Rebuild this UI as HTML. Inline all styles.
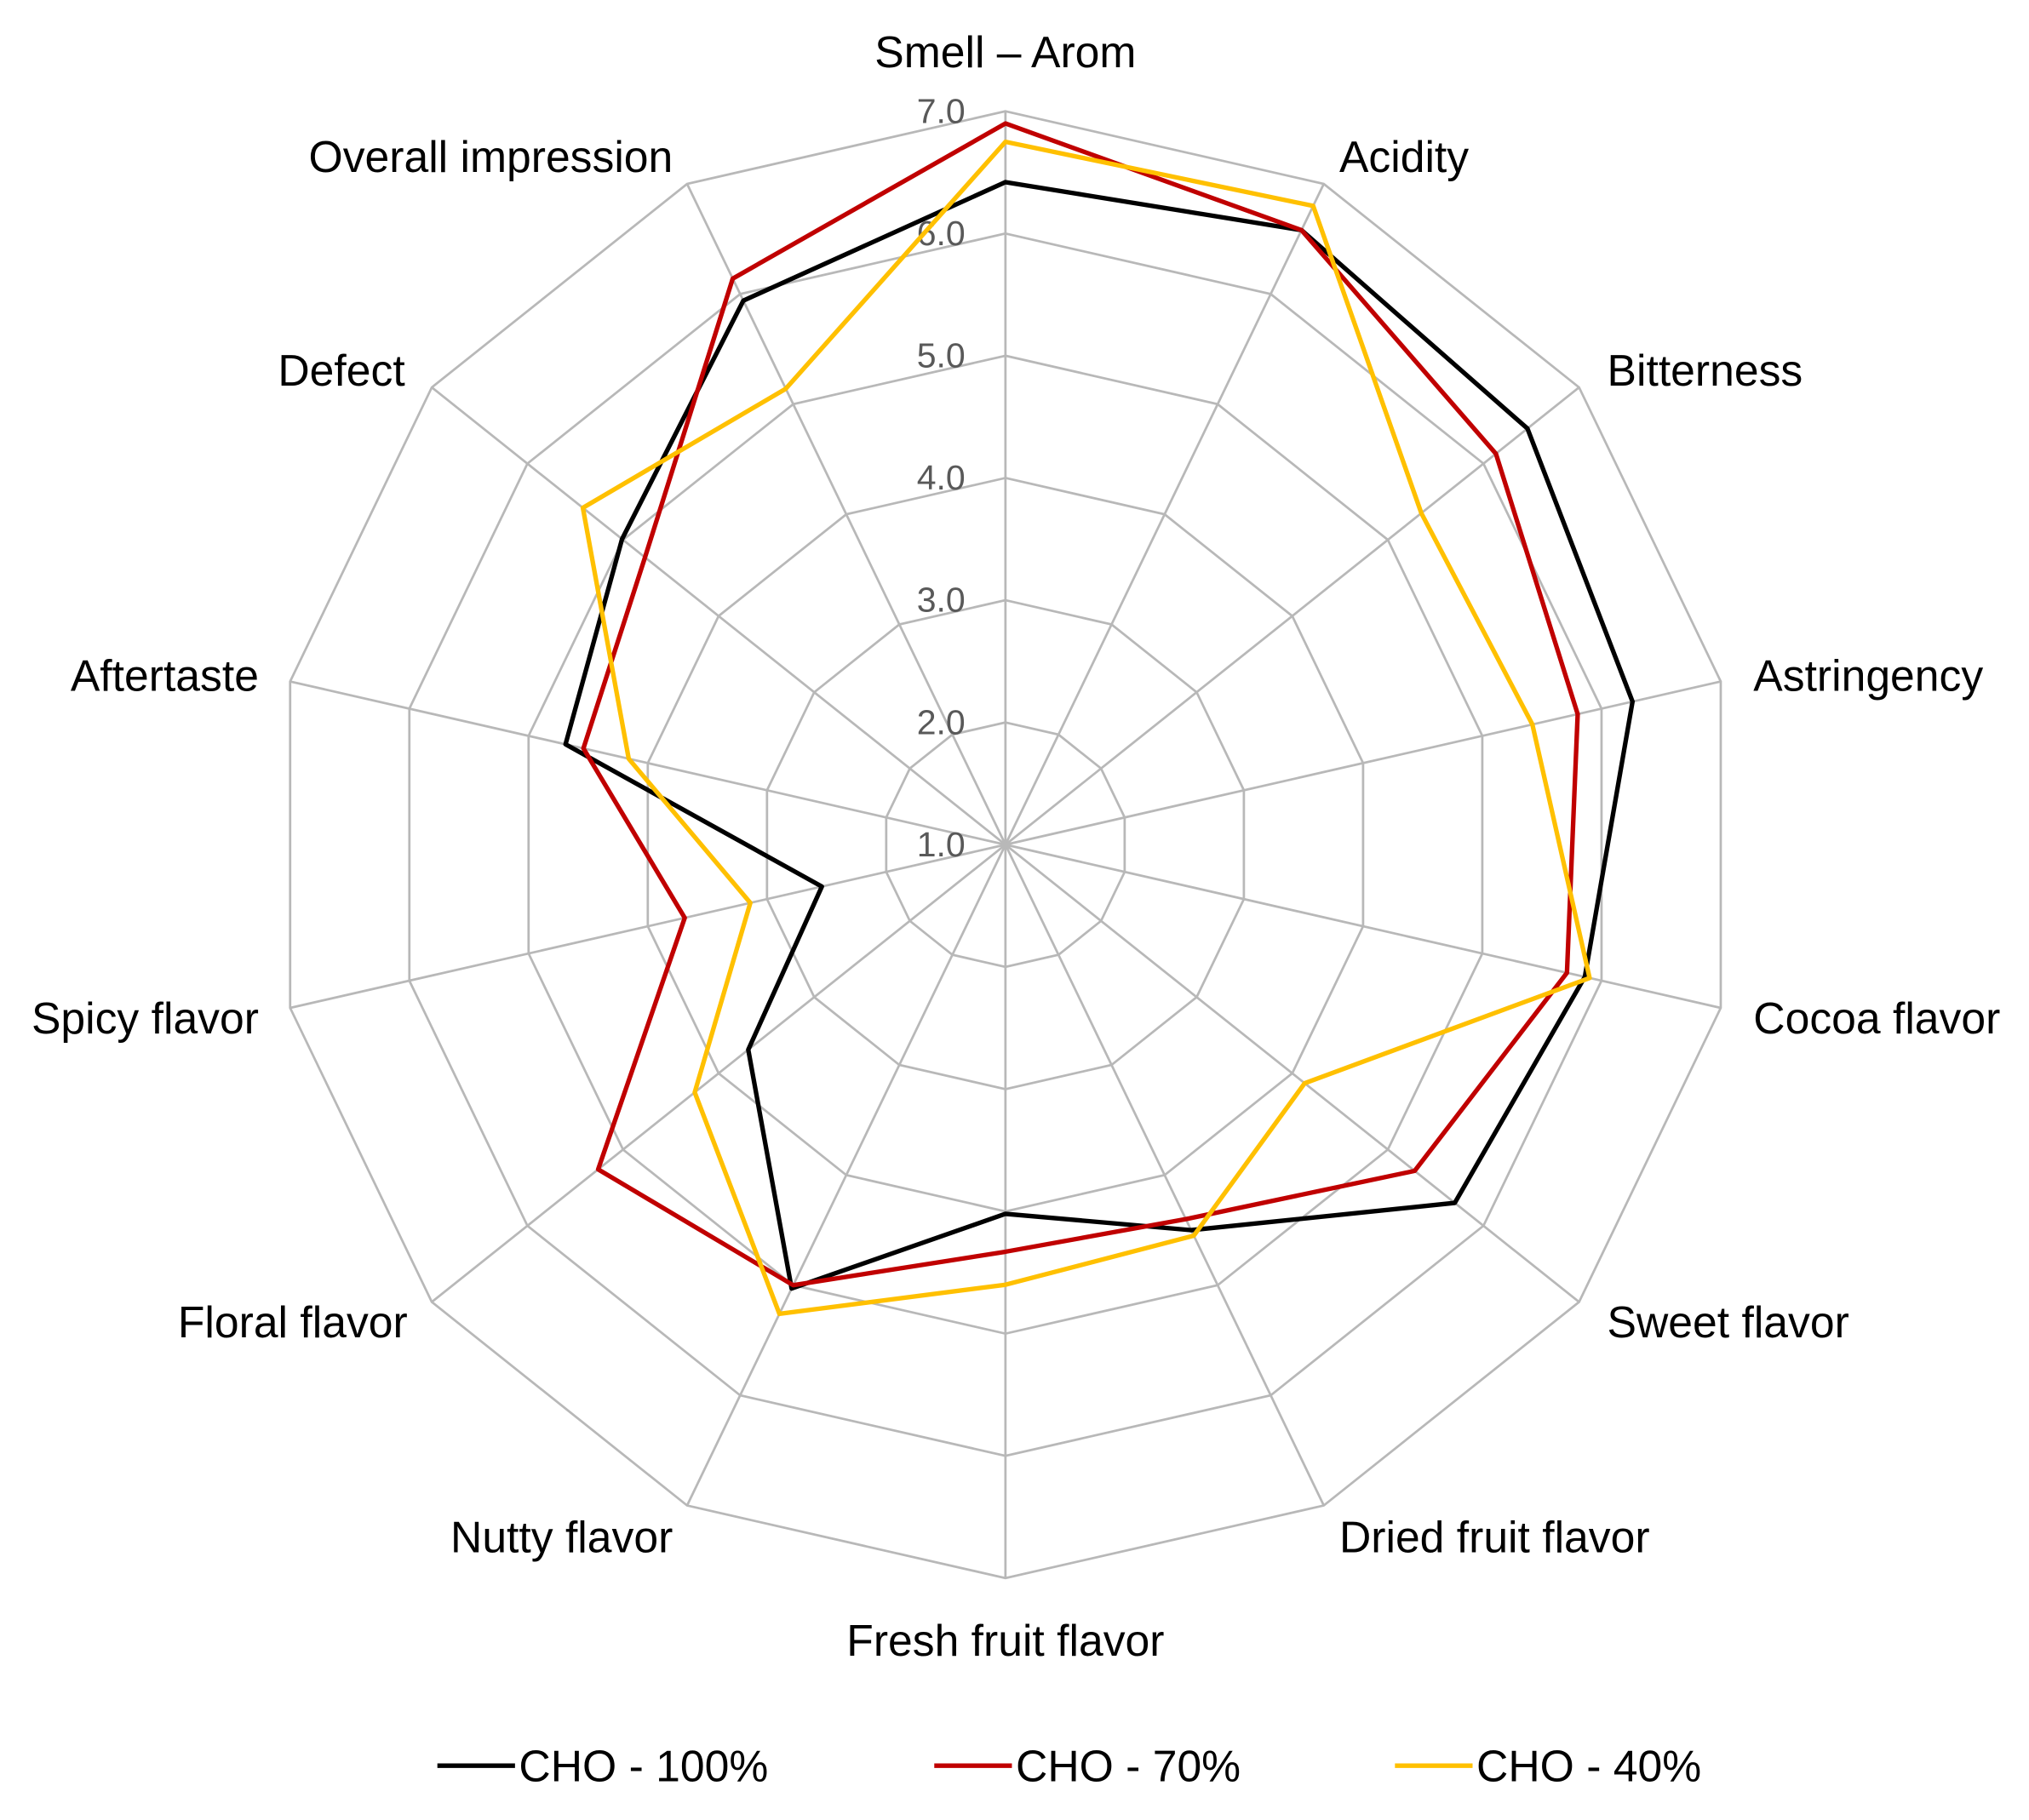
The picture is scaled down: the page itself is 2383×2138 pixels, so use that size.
<!DOCTYPE html>
<html><head><meta charset="utf-8"><style>
html,body{margin:0;padding:0;background:#fff;}
svg{display:block;font-family:"Liberation Sans",Arial,sans-serif;}
</style></head><body>
<svg id="chart" width="2383" height="2138" viewBox="0 0 1568 1407" preserveAspectRatio="none" xmlns="http://www.w3.org/2000/svg">
<g id="grid"></g>
<g id="ticks"></g>
<g id="series"></g>
<g id="cats"></g>
<g id="legend"></g>
</svg>
<script>
const categories = ["Smell – Arom","Acidity","Bitterness","Astringency","Cocoa flavor","Sweet flavor","Dried fruit flavor","Fresh fruit flavor","Nutty flavor","Floral flavor","Spicy flavor","Aftertaste","Defect","Overall impression"];
const seriesNames = ["CHO - 100%","CHO - 70%","CHO - 40%"];
const cho100 = [6.42,6.58,6.46,6.26,5.86,5.7,4.5,4.02,5.03,3.69,2.54,4.69,5.01,5.94];
const cho70 = [6.9,6.58,6.13,5.8,5.71,5.28,4.4,4.33,5.0,5.26,3.69,4.54,4.77,6.14];
const cho40 = [6.75,6.8,5.35,5.42,5.9,4.13,4.55,4.6,5.26,4.25,3.14,4.16,5.42,5.14];
const tickLabels = ["1.0","2.0","3.0","4.0","5.0","6.0","7.0"];
const vMin = 1, vMax = 7;

const NS="http://www.w3.org/2000/svg";
const cx=777, cy=653, R=567;
const colors=["#000000","#c00000","#ffc000"];
const N=categories.length;
function ang(i){return i*2*Math.PI/N;}
function rScale(v){return (v-vMin)/(vMax-vMin)*R;}
function pt(i,v){const a=ang(i),r=rScale(v);return [cx+r*Math.sin(a),cy-r*Math.cos(a)];}
function mk(tag,attrs,parent){const e=document.createElementNS(NS,tag);for(const k in attrs)e.setAttribute(k,attrs[k]);parent.appendChild(e);return e;}

const grid=document.getElementById('grid');
for(let t=1;t<tickLabels.length;t++){
  const v=parseFloat(tickLabels[t]);
  const pts=categories.map((c,i)=>pt(i,v).join(',')).join(' ');
  const p=mk('polygon',{points:pts,fill:'none',stroke:'#b8b8b8','stroke-width':1.8},grid);
  
  
}
categories.forEach((c,i)=>{
  const [x,y]=pt(i,vMax);
  const l=mk('line',{x1:cx,y1:cy,x2:x,y2:y,stroke:'#b8b8b8','stroke-width':1.8},grid);
  
  
});
const ticks=document.getElementById('ticks');
tickLabels.forEach(t=>{
  const y=cy-rScale(parseFloat(t));
  const e=mk('text',{x:746,y:y+9,'text-anchor':'end','font-size':27,fill:'#595959'},ticks);
  e.textContent=t;
  
  
});
const series=document.getElementById('series');
[cho100,cho70,cho40].forEach((arr,s)=>{
  const pts=arr.map((v,i)=>pt(i,v).join(',')).join(' ');
  const p=mk('polygon',{points:pts,fill:'none',stroke:colors[s],'stroke-width':3.5,'stroke-linejoin':'round'},series);
  
  
});
const labelPos=[[777,40,'middle'],[1035,121,'start'],[1242,286,'start'],[1355,522,'start'],[1355,787,'start'],[1242,1022,'start'],[1035,1188,'start'],[777,1268,'middle'],[520,1188,'end'],[315,1022,'end'],[200,787,'end'],[200,522,'end'],[313,286,'end'],[520,121,'end']];
const cats=document.getElementById('cats');
categories.forEach((c,i)=>{
  const [x,y,a]=labelPos[i];
  const e=mk('text',{x:x,y:y+12,'text-anchor':a,'font-size':34,fill:'#000'},cats);
  e.textContent=c;
  
  
});
const legend=document.getElementById('legend');
const lx=[338,722,1078];
seriesNames.forEach((n,s)=>{
  const l=mk('line',{x1:lx[s],y1:1365,x2:lx[s]+60,y2:1365,stroke:colors[s],'stroke-width':3.5},legend);
  
  
  const t=mk('text',{x:lx[s]+63,y:1377,'font-size':34,fill:'#000'},legend);
  t.textContent=n;
  
  
});
</script>
</body></html>
